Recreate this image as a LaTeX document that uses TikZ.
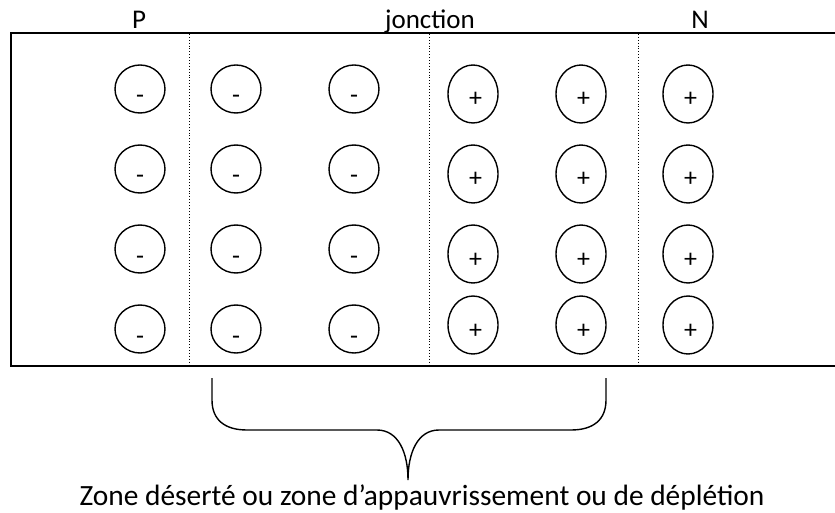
\documentclass[tikz,border=0pt]{standalone}
\usepackage{fontspec}
\setmainfont{Carlito}
\usetikzlibrary{shapes.geometric}
\begin{document}
\begin{tikzpicture}[x=1pt,y=-1pt,
  frame/.style={line width=1.8pt},
  sepline/.style={line width=0.9pt, dotted},
  negion/.style={ellipse, draw, line width=1.4pt, minimum width=50pt, minimum height=48pt, inner sep=0pt},
  posion/.style={ellipse, draw, line width=1.4pt, minimum width=50pt, minimum height=58pt, inner sep=0pt},
  signtxt/.style={font=\fontsize{26}{26}\selectfont, anchor=base, inner sep=0pt},
  lbl/.style={font=\fontsize{27}{27}\selectfont, anchor=base, inner sep=0pt},
  bracepath/.style={line width=1.4pt}]
\useasboundingbox (0,0) rectangle (835,513);
% frame
\coordinate (tl) at (11,33);
\coordinate (tr) at (835,33);
\coordinate (bl) at (11,366);
\coordinate (br) at (835,366);
\draw[frame] (tr) -- (tl) -- (bl) -- (br);
% separators
\coordinate (s1t) at (189,34); \coordinate (s1b) at (189,365);
\coordinate (s2t) at (429,34); \coordinate (s2b) at (429,365);
\coordinate (s3t) at (638,34); \coordinate (s3b) at (638,365);
\draw[sepline] (s1t) -- (s1b);
\draw[sepline] (s2t) -- (s2b);
\draw[sepline] (s3t) -- (s3b);
% labels
\node[lbl] (P) at (139,29) {P};
\node[lbl] (J) at (430,29) {jonction};
\node[lbl] (N) at (700,29) {N};
% negative ions
\foreach \c/\x in {1/140,2/236,3/354}{
  \foreach \r/\y in {1/89,2/169,3/249,4/329}{
    \node[negion] (m\c\r) at (\x,\y) {};
    \node[signtxt] (ms\c\r) at (\x,\y+15) {-};
  }
}
% positive ions
\foreach \c/\x in {1/473,2/581,3/688}{
  \foreach \r/\y in {1/94,2/174,3/254,4/325}{
    \node[posion] (p\c\r) at (\x,\y) {};
    \node[signtxt] (ps\c\r) at (\x+2.5,\y+13) {+};
  }
}
% brace
\coordinate (bL) at (212,378);
\coordinate (bR) at (606,378);
\coordinate (bT) at (408,480);
\draw[bracepath] (bL) -- (212,400) .. controls (212,420) and (225,430) .. (247,430) -- (377,430)
  .. controls (398,430) and (408,452) .. (bT)
  .. controls (408,452) and (418,430) .. (439,430) -- (571,430)
  .. controls (593,430) and (606,420) .. (606,400) -- (bR);
\node[lbl, font=\fontsize{29.4}{29.4}\selectfont] (Z) at (422,505) {Zone déserté ou zone d’appauvrissement ou de déplétion};
\end{tikzpicture}
\end{document}
